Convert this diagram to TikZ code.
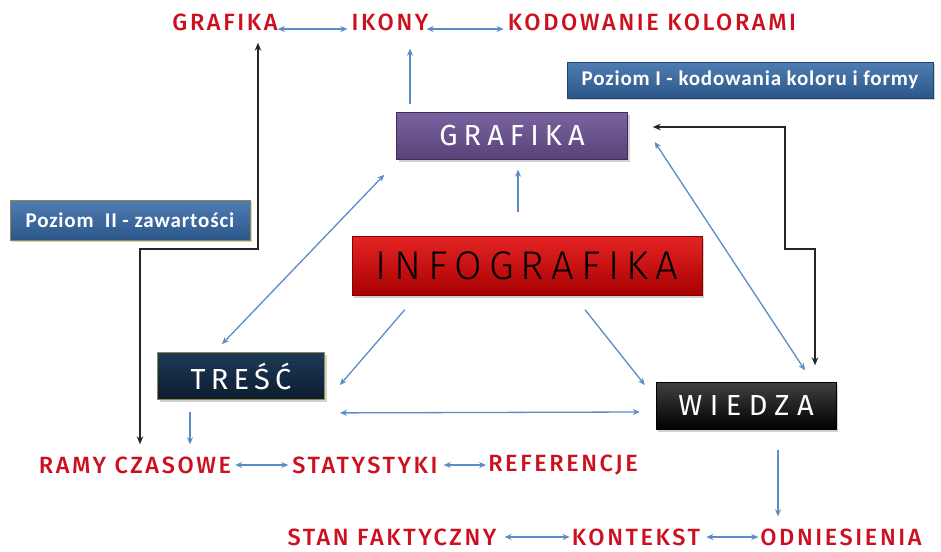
\documentclass[tikz,border=0pt]{standalone}
\usepackage{fontspec}
\usetikzlibrary{arrows.meta,shadows}
\newfontfamily\redf[LetterSpace=11]{Fira Sans Medium}
\newfontfamily\grafF[LetterSpace=21]{Fira Sans}
\newfontfamily\trescF[LetterSpace=18]{Fira Sans}
\newfontfamily\wiedzaF[LetterSpace=26]{Fira Sans}
\newfontfamily\infoF[LetterSpace=18]{Fira Sans Light}
\newfontfamily\pozf[LetterSpace=4]{Carlito}
\definecolor{lblred}{HTML}{CC1020}
\definecolor{arrblue}{HTML}{5B8CC8}
\definecolor{purpT}{HTML}{7A64A0}
\definecolor{purpB}{HTML}{574278}
\definecolor{redT}{HTML}{E52424}
\definecolor{redB}{HTML}{A80000}
\definecolor{navyT}{HTML}{1E3A58}
\definecolor{navyB}{HTML}{0C1C30}
\definecolor{pozT}{HTML}{4F7DB3}
\definecolor{pozB}{HTML}{2C5688}
\tikzset{
  lbl/.style={text=lblred, font=\redf\fontsize{23.5}{26}\selectfont, inner sep=0pt},
  box/.style={inner sep=0pt, text=white, drop shadow={shadow xshift=2pt,shadow yshift=-2pt,opacity=.35}},
  pozbox/.style={box, top color=pozT, bottom color=pozB, font=\pozf\bfseries\fontsize{21}{23}\selectfont},
  arr/.style={draw=arrblue, line width=1.3pt, -{Stealth[length=7pt,width=6pt]}},
  dbl/.style={draw=arrblue, line width=1.3pt, {Stealth[length=7pt,width=6pt]}-{Stealth[length=7pt,width=6pt]}},
  blkd/.style={draw=black!85, line width=1.4pt, {Stealth[length=8pt,width=6.5pt]}-{Stealth[length=8pt,width=6.5pt]}}
}
\begin{document}
\begin{tikzpicture}[x=1pt,y=-1pt]
\useasboundingbox[fill=white] (0,0) rectangle (941,551);
% top row
\node[lbl] (t1) at (225,22) {GRAFIKA};
\node[lbl] (t2) at (390,22) {IKONY};
\node[lbl] (t3) at (652,22) {KODOWANIE KOLORAMI};
% level boxes
\node[pozbox, draw=pozB!80!black, line width=.6pt, minimum width=366pt, minimum height=36pt] (p1) at (750,80) {Poziom I - kodowania koloru i formy};
\node[pozbox, draw=olive!45!gray, line width=.8pt, minimum width=240pt, minimum height=40pt] (p2) at (130,220) {Poziom~~II - zawartości};
% main boxes
\node[box, top color=purpT, bottom color=purpB, draw=purpB!70!black, minimum width=231pt, minimum height=47pt, font=\grafF\fontsize{29}{31}\selectfont] (graf) at (512,136) {GRAFIKA};
\node[box, top color=redT, bottom color=redB, draw=redB!80!black, text=black, minimum width=350pt, minimum height=59pt, font=\infoF\fontsize{40}{42}\selectfont] (info) at (527,266) {INFOGRAFIKA};
\node[box, top color=navyT, bottom color=navyB, draw=olive!50!gray, line width=.8pt, minimum width=167pt, minimum height=47pt, font=\trescF\fontsize{29}{31}\selectfont] (tresc) at (241,376) {TREŚĆ};
\node[box, top color=black!75, bottom color=black, draw=black, minimum width=180pt, minimum height=47pt, font=\wiedzaF\fontsize{29}{31}\selectfont] (wiedza) at (746,406) {WIEDZA};
% middle row
\node[lbl] (r1) at (135,465) {RAMY CZASOWE};
\node[lbl] (r2) at (365,465) {STATYSTYKI};
\node[lbl] (r3) at (563,465) {REFERENCJE};
% bottom row
\node[lbl] (b1) at (392,537) {STAN FAKTYCZNY};
\node[lbl] (b2) at (636,537) {KONTEKST};
\node[lbl] (b3) at (841,537) {ODNIESIENIA};
% row arrows
\draw[dbl] ([xshift=0pt,yshift=-7pt]t1.east) -- ([xshift=-4pt,yshift=-7pt]t2.west);
\draw[dbl] ([xshift=-2pt,yshift=-7pt]t2.east) -- ([xshift=-4pt,yshift=-7pt]t3.west);
\draw[dbl] ([xshift=4pt]r1.east) -- ([xshift=-4pt]r2.west);
\draw[dbl] ([xshift=6pt]r2.east) -- ([xshift=-2pt]r3.west);
\draw[dbl] ([xshift=8pt]b1.east) -- ([xshift=-2pt]b2.west);
\draw[dbl] ([xshift=6pt]b2.east) -- ([xshift=-2pt]b3.west);
% structural arrows
\coordinate (g1) at (410,104);
\draw[arr] (g1) -- ([xshift=20pt,yshift=-18pt]t2.south);
\draw[arr] ([xshift=-9pt,yshift=24pt]info.north) -- ([xshift=6pt,yshift=-10pt]graf.south);
\draw[dbl] ([xshift=-12pt,yshift=-15pt]graf.south west) -- ([xshift=-19pt,yshift=8pt]tresc.north);
\draw[dbl] ([xshift=27pt,yshift=-6pt]graf.east) -- ([xshift=59pt,yshift=12pt]wiedza.north);
\draw[arr] ([xshift=53pt,yshift=-14pt]info.south west) -- ([xshift=15pt,yshift=-9pt]tresc.east);
\draw[arr] ([xshift=58pt,yshift=-14pt]info.south) -- ([xshift=-11pt,yshift=21pt]wiedza.west);
\draw[dbl] ([xshift=15pt,yshift=-13pt]tresc.south east) -- ([xshift=-16pt,yshift=-6pt]wiedza.west);
\draw[arr] ([xshift=-51pt,yshift=-12pt]tresc.south) -- ([xshift=55pt,yshift=12pt]r1.north);
\draw[arr] ([xshift=32pt,yshift=-20pt]wiedza.south) -- ([xshift=-63pt,yshift=12pt]b3.north);
% black connectors
\coordinate (lc1) at (258,249);
\coordinate (lc2) at (140,249);
\draw[blkd] ([xshift=33pt,yshift=-12pt]t1.south) -- (lc1) -- (lc2) -- ([xshift=5pt,yshift=12pt]r1.north);
\coordinate (rc1) at (785,127);
\coordinate (rc2) at (785,249);
\coordinate (rc3) at (815,249);
\draw[blkd] ([xshift=25pt,yshift=9pt]graf.east) -- (rc1) -- (rc2) -- (rc3) -- ([xshift=69pt,yshift=17pt]wiedza.north);
\end{tikzpicture}
\end{document}
